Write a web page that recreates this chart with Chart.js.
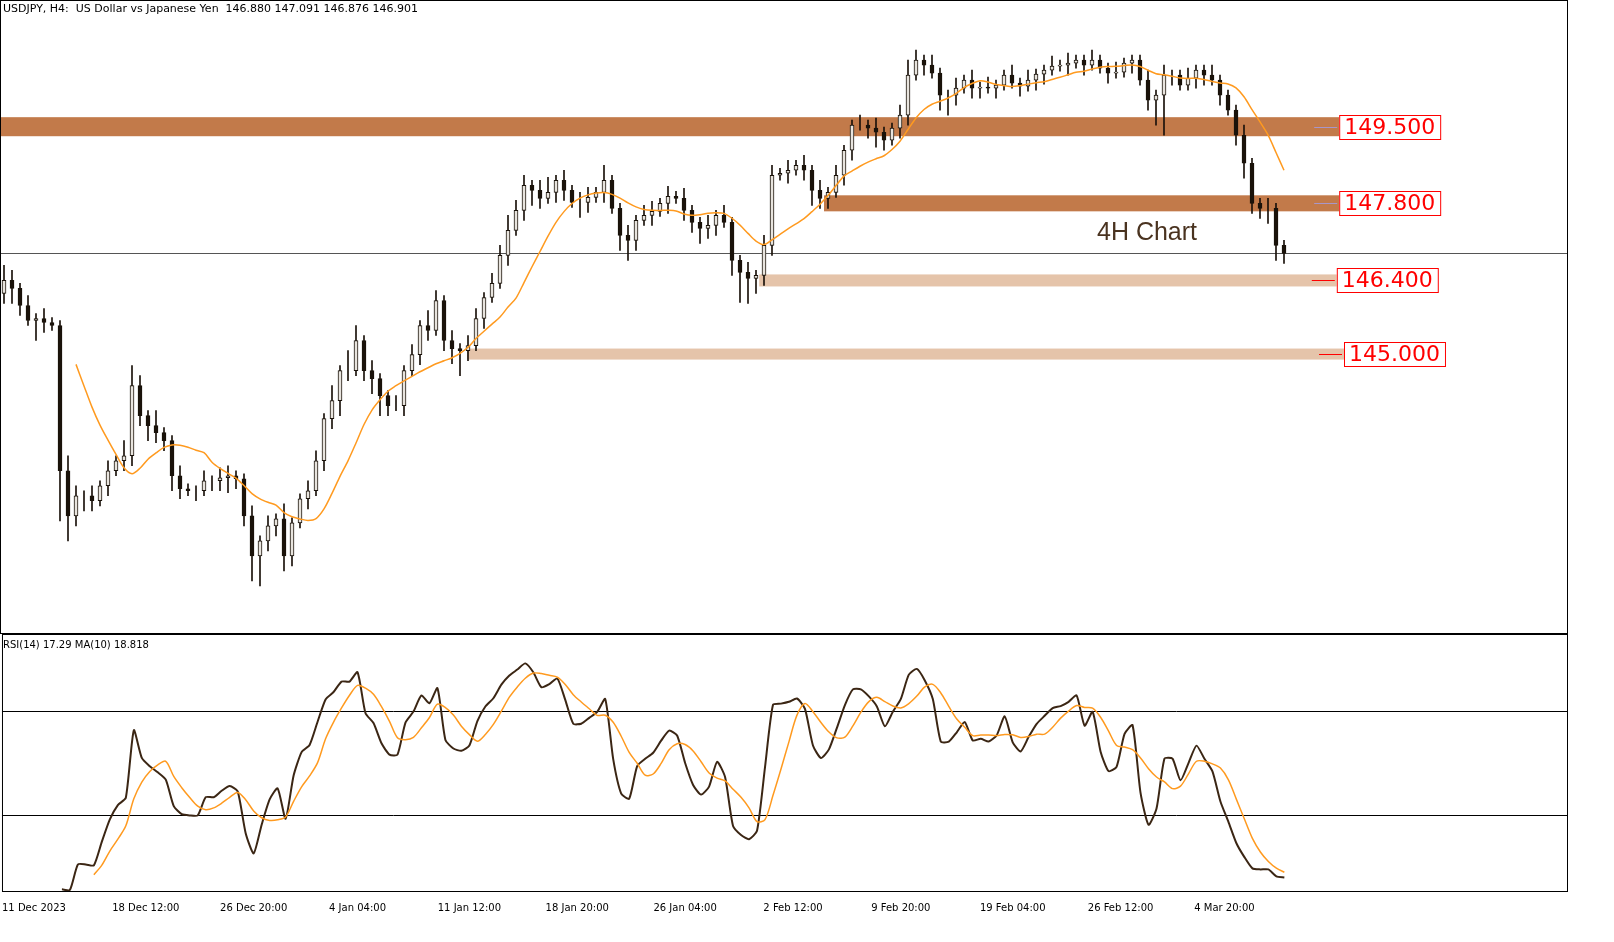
<!DOCTYPE html>
<html><head><meta charset="utf-8">
<script src="https://cdn.jsdelivr.net/npm/chart.js@4.4.1/dist/chart.umd.min.js"></script>
<style>
body{margin:0;background:#fff;width:1614px;height:942px;overflow:hidden;font-family:"DejaVu Sans",sans-serif}
#c1{position:absolute;left:0;top:0}
#c2{position:absolute;left:0;top:634px}
</style></head><body>
<canvas id="c1" width="1568" height="634"></canvas>
<canvas id="c2" width="1568" height="282"></canvas>
<script>
// 8h candles, closes (JPY)
const closes=[146.36,146.20,145.86,145.56,145.60,145.52,145.46,142.56,141.66,142.06,142.06,141.96,142.26,142.56,142.76,142.86,144.26,143.66,143.46,143.32,143.16,142.46,142.20,142.16,142.16,142.36,142.36,142.42,142.46,142.40,141.66,140.86,141.16,141.46,141.60,140.86,141.52,142.00,142.16,142.76,143.60,143.96,144.56,144.56,145.16,144.56,144.40,144.06,143.86,143.86,144.56,144.88,145.46,145.36,145.96,145.16,145.00,144.96,145.06,145.60,146.02,146.30,146.86,147.36,147.76,148.26,148.16,148.00,148.12,148.36,148.16,147.92,147.92,148.02,148.12,148.36,147.80,147.26,147.16,147.56,147.66,147.74,147.90,148.04,148.00,147.76,147.52,147.40,147.46,147.66,147.52,146.76,146.52,146.40,146.46,147.06,148.46,148.50,148.56,148.66,148.56,148.16,148.00,148.12,148.46,148.96,149.46,149.46,149.40,149.32,149.16,149.40,149.66,150.46,150.76,150.66,150.50,150.06,150.06,150.20,150.36,150.20,150.22,150.20,150.26,150.46,150.30,150.24,150.36,150.48,150.56,150.64,150.66,150.70,150.76,150.66,150.76,150.60,150.50,150.52,150.70,150.76,150.36,149.96,150.06,150.46,150.46,150.26,150.40,150.56,150.46,150.36,150.06,149.76,149.26,148.70,147.90,147.80,147.80,147.06,146.90];
const firstOpen=146.10;
// wick extensions in tenths of a yen
const wickUp=[3,2,1,2,1,2,1,1,3,2,1,2,1,2,1,3,4,2,1,3,1,1,2,1,1,2,1,2,2,1,1,2,1,2,1,3,1,1,2,2,1,3,1,4,3,1,2,1,1,2,1,2,1,3,2,1,2,1,2,2,1,2,2,3,2,2,1,2,3,1,2,1,2,2,1,3,1,1,2,1,2,2,1,2,1,2,1,1,2,1,2,1,1,2,1,2,2,1,2,1,2,1,2,1,2,1,1,2,1,2,1,1,2,3,2,1,2,1,1,2,1,2,1,2,1,1,2,1,2,1,1,2,1,2,1,1,2,1,1,2,1,1,1,2,1,2,1,1,2,1,1,2,1,1,1,2,1,1,2,1,1];
const wickDn=[2,3,2,1,4,2,1,10,5,2,3,2,1,2,1,2,2,2,3,2,2,3,2,1,2,1,2,2,3,2,2,5,6,2,2,3,2,1,2,1,2,2,3,2,1,2,3,4,2,1,2,1,2,2,1,2,3,5,2,1,2,1,1,2,1,2,3,2,1,2,2,1,3,2,1,2,1,3,4,2,1,2,1,2,1,2,2,3,2,2,1,3,6,5,3,2,2,1,2,1,2,3,2,2,1,2,2,1,2,3,2,1,2,2,1,2,1,3,4,2,1,2,2,1,2,1,1,2,1,2,2,1,1,2,1,2,1,1,2,1,1,2,1,2,5,8,2,1,1,2,2,1,2,1,2,3,2,2,3,3,2,4,4];
const tickPos=[3.5,17.5,31,44,58,71.5,85,98.5,112,126,139.5,152.5];
const tickLabels=["11 Dec 2023","18 Dec 12:00","26 Dec 20:00","4 Jan 04:00","11 Jan 12:00","18 Jan 20:00","26 Jan 04:00","2 Feb 12:00","9 Feb 20:00","19 Feb 04:00","26 Feb 12:00","4 Mar 20:00"];
// support / resistance zones
const zoneLabels=["149.500","147.800","146.400","145.000"];
const zoneTop=[149.62,148.06,146.48,145.00];
const zoneBot=[149.24,147.74,146.24,144.78];
const zoneStart=[-0.5,102.5,94.4,57.9];
const zoneEnd=[166.9,166.9,166.6,167.5];
const zoneColor=["#c27a4a","#c27a4a","#e5c4aa","#e5c4aa"];
const zoneLine=["#a896c8","#a896c8","#ff0000","#ff0000"];
const currentPrice=146.90;

const N=closes.length;
const opens=closes.map((c,i)=>i?closes[i-1]:firstOpen);
const bodies=[],wicks=[],bodyCol=[];
for(let i=0;i<N;i++){
  const hi=Math.max(opens[i],closes[i])+wickUp[i]/10, lo=Math.min(opens[i],closes[i])-wickDn[i]/10;
  bodies.push({x:i,y:[opens[i],closes[i]]});
  wicks.push({x:i,y:[lo,hi]});
  bodyCol.push(closes[i]>=opens[i]?'#e8e4de':'#1a120a');
}
const ma=[];for(let i=9;i<N;i++){let s=0;for(let j=i-9;j<=i;j++)s+=closes[j];ma.push({x:i,y:s/10});}
// RSI
const P=7;let ag=0,al=0;const rsi=[];
for(let i=1;i<N;i++){const d=closes[i]-closes[i-1];const g=Math.max(d,0),l=Math.max(-d,0);
  if(i<=P){ag+=g/P;al+=l/P;}else{ag=(ag*(P-1)+g)/P;al=(al*(P-1)+l)/P;}
  if(i>=P) rsi.push({x:i,y:100-100/(1+ag/(al||1e-9))});}
const rsiMa=[];for(let i=4;i<rsi.length;i++){let s=0;for(let j=i-4;j<=i;j++)s+=rsi[j].y;rsiMa.push({x:rsi[i].x,y:s/5});}

const boxPlug={id:'box',afterDraw(c){const {ctx,chartArea:a}=c;ctx.save();ctx.strokeStyle='#000';ctx.lineWidth=1;ctx.strokeRect(a.left+0.5,a.top+0.5,a.right-a.left-1,a.bottom-a.top-1);ctx.restore();}};
const mainPlug={id:'main',beforeDatasetsDraw(c){const {ctx,scales:{x,y},chartArea:a}=c;ctx.save();
  for(let k=0;k<zoneTop.length;k++){ctx.fillStyle=zoneColor[k];const x0=x.getPixelForValue(zoneStart[k]),x1=x.getPixelForValue(zoneEnd[k]);const y0=y.getPixelForValue(zoneTop[k]),y1=y.getPixelForValue(zoneBot[k]);ctx.fillRect(x0,y0,x1-x0,y1-y0);}
  ctx.strokeStyle='#555';ctx.lineWidth=1;const yp=Math.round(y.getPixelForValue(currentPrice))+0.5;ctx.beginPath();ctx.moveTo(a.left,yp);ctx.lineTo(a.right,yp);ctx.stroke();ctx.restore();},
 afterDatasetsDraw(c){const {ctx,scales:{x,y}}=c;ctx.save();ctx.font='22px "DejaVu Sans"';
  for(let k=0;k<zoneTop.length;k++){const xe=x.getPixelForValue(zoneEnd[k]);const yc=Math.round(y.getPixelForValue((zoneTop[k]+zoneBot[k])/2));
   const w=ctx.measureText(zoneLabels[k]).width+10;ctx.strokeStyle=zoneLine[k];ctx.lineWidth=1;ctx.beginPath();ctx.moveTo(xe-25,yc+0.5);ctx.lineTo(xe-2,yc+0.5);ctx.stroke();
   ctx.strokeStyle='#ff0000';ctx.fillStyle='#fff';ctx.fillRect(xe,yc-12,w,24);ctx.strokeRect(xe+0.5,yc-11.5,w,24);ctx.fillStyle='#ff0000';ctx.textBaseline='middle';ctx.fillText(zoneLabels[k],xe+5,yc+1);}
  ctx.fillStyle='#4a3320';ctx.font='25px "Liberation Sans"';ctx.textBaseline='middle';ctx.fillText('4H Chart',1097,233);
  ctx.fillStyle='#000';ctx.font='11px "DejaVu Sans"';ctx.textBaseline='top';ctx.fillText('USDJPY, H4:  US Dollar vs Japanese Yen  146.880 147.091 146.876 146.901',3,4);ctx.restore();}};
new Chart(document.getElementById('c1'),{type:'bar',data:{datasets:[
  {type:'line',data:ma,borderColor:'#ff9a1f',borderWidth:1.5,pointRadius:0,tension:0.3,order:0},
  {data:wicks,backgroundColor:'#1a120a',barThickness:1,grouped:false,order:2},
  {data:bodies,backgroundColor:bodyCol,borderColor:'#1a120a',borderWidth:1,borderSkipped:false,barThickness:4,grouped:false,order:1}]},
 options:{responsive:false,devicePixelRatio:1,animation:false,layout:{padding:0},plugins:{legend:{display:false},tooltip:{enabled:false}},
  scales:{x:{type:'linear',min:-0.5,max:195.5,offset:false,bounds:'ticks',display:false},y:{min:139.3,max:151.96,display:false}}},plugins:[boxPlug,mainPlug]});
const rsiPlug={id:'rsi',beforeDatasetsDraw(c){const {ctx,scales:{y},chartArea:a}=c;ctx.save();ctx.strokeStyle='#000';ctx.lineWidth=1;
  [70,30].forEach(v=>{const yp=Math.round(y.getPixelForValue(v))+0.5;ctx.beginPath();ctx.moveTo(a.left,yp);ctx.lineTo(a.right,yp);ctx.stroke();});ctx.restore();},
 afterDraw(c){const {ctx}=c;ctx.save();ctx.fillStyle='#000';ctx.font='10px "DejaVu Sans"';ctx.textBaseline='top';ctx.fillText('RSI(14) 17.29 MA(10) 18.818',3,6);ctx.restore();}};
new Chart(document.getElementById('c2'),{type:'line',data:{datasets:[
  {data:rsiMa,borderColor:'#ff9a1f',borderWidth:1.5,pointRadius:0,tension:0.3},
  {data:rsi,borderColor:'#3b2614',borderWidth:2,pointRadius:0,tension:0.2}]},
 options:{responsive:false,devicePixelRatio:1,animation:false,layout:{padding:0},plugins:{legend:{display:false},tooltip:{enabled:false}},
  scales:{x:{type:'linear',min:-0.5,max:195.5,offset:false,grid:{display:false,drawTicks:true},border:{display:false},
    afterBuildTicks(s){s.ticks=tickPos.map(v=>({value:v}));},
    ticks:{autoSkip:false,maxRotation:0,color:'#000',font:{size:10,family:'DejaVu Sans'},padding:2,callback:(v,i)=>tickLabels[i]}},
   y:{min:0,max:100,display:false}}},plugins:[boxPlug,rsiPlug]});
</script></body></html>
